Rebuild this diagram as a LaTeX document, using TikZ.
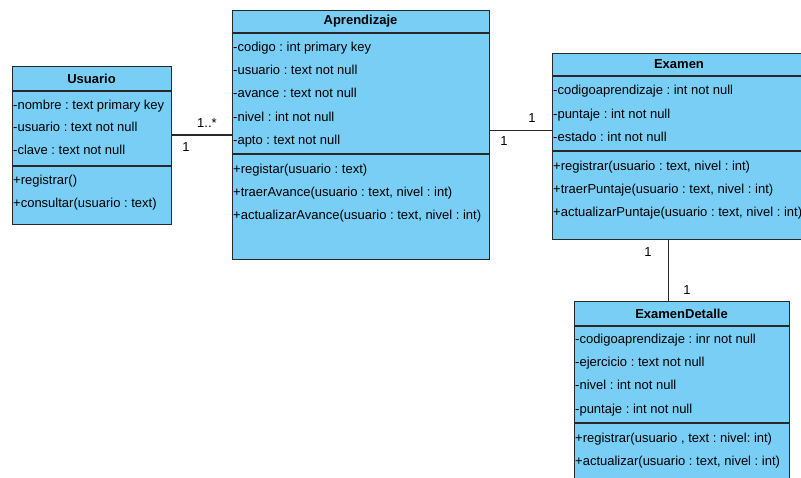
\documentclass[tikz,border=0pt]{standalone}
\usepackage{fontspec}
\setmainfont{Liberation Sans}
\frenchspacing
\definecolor{umlfill}{RGB}{121,206,245}
\definecolor{umlline}{RGB}{40,40,40}
\tikzset{
  cls/.style={draw=umlline, fill=umlfill, line width=1.1pt, rectangle, inner sep=0pt, anchor=north west},
  sepline/.style={draw=umlline, line width=1.1pt},
  attr/.style={anchor=west, inner sep=0pt, font=\fontsize{13}{15}\selectfont\frenchspacing, text height=9.3pt, text depth=2.7pt},
  ttl/.style={inner sep=0pt, font=\fontsize{13}{15}\selectfont\bfseries},
  mult/.style={inner sep=0pt, font=\fontsize{13}{15}\selectfont},
  conn/.style={draw=umlline, line width=1.1pt}
}
\begin{document}
\begin{tikzpicture}[x=1pt,y=-1pt]
\useasboundingbox (0,0) rectangle (801,478);
\clip (0,0) rectangle (801,478);
\fill[white] (0,0) rectangle (801,478);

% Usuario
\node[cls, minimum width=159pt, minimum height=158pt] (usr) at (12,66) {};
\draw[sepline] (12,91) -- (171,91);
\draw[sepline] (12,166) -- (171,166);
\node[ttl] (usrT) at (91.5,79) {Usuario};
\node[attr] (u1) at (13,106) {-nombre : text primary key};
\node[attr] (u2) at (13,128.5) {-usuario : text not null};
\node[attr] (u3) at (13,151) {-clave : text not null};
\node[attr] (u4) at (13,181.5) {+registrar()};
\node[attr] (u5) at (13,204) {+consultar(usuario : text)};

% Aprendizaje
\node[cls, minimum width=257pt, minimum height=249pt] (apr) at (232,10) {};
\draw[sepline] (232,33) -- (489,33);
\draw[sepline] (232,154) -- (489,154);
\node[ttl] (aprT) at (360.5,21.5) {Aprendizaje};
\node[attr] (a1) at (233,48) {-codigo : int primary key};
\node[attr] (a2) at (233,71.5) {-usuario : text not null};
\node[attr] (a3) at (233,94.5) {-avance : text not null};
\node[attr] (a4) at (233,118) {-nivel : int not null};
\node[attr] (a5) at (233,141) {-apto : text not null};
\node[attr] (a6) at (233,170.5) {+registar(usuario : text)};
\node[attr] (a7) at (233,193.5) {+traerAvance(usuario : text, nivel : int)};
\node[attr] (a8) at (233,216) {+actualizarAvance(usuario : text, nivel : int)};

% Examen
\node[cls, minimum width=270pt, minimum height=186pt] (ex) at (552,53) {};
\draw[sepline] (552,76) -- (822,76);
\draw[sepline] (552,151) -- (822,151);
\node[ttl] (exT) at (679,64.5) {Examen};
\node[attr] (e1) at (553,91.7) {-codigoaprendizaje : int not null};
\node[attr] (e2) at (553,115) {-puntaje : int not null};
\node[attr] (e3) at (553,138.3) {-estado : int not null};
\node[attr] (e4) at (553,167.3) {+registrar(usuario : text, nivel : int)};
\node[attr] (e5) at (553,190) {+traerPuntaje(usuario : text, nivel : int)};
\node[attr] (e6) at (553,213.3) {+actualizarPuntaje(usuario : text, nivel : int)};

% ExamenDetalle
\node[cls, minimum width=215pt, minimum height=200pt] (exd) at (574,301) {};
\draw[sepline] (574,326) -- (789,326);
\draw[sepline] (574,423) -- (789,423);
\node[ttl] (exdT) at (681.5,313.5) {ExamenDetalle};
\node[attr] (d1) at (575,340) {-codigoaprendizaje : inr not null};
\node[attr] (d2) at (575,363) {-ejercicio : text not null};
\node[attr] (d3) at (575,386.5) {-nivel : int not null};
\node[attr] (d4) at (575,410) {-puntaje : int not null};
\node[attr] (d5) at (575,439) {+registrar(usuario , text : nivel: int)};
\node[attr] (d6) at (575,462) {+actualizar(usuario : text, nivel : int)};

% connectors
\draw[conn] (apr.west) -- (apr.west -| usr.east);
\coordinate (c1) at ([yshift=4.5pt]apr.east);
\draw[conn] (c1) -- (c1 -| ex.west);
\coordinate (c2) at ([xshift=-13.5pt]exd.north);
\draw[conn] (c2) -- (c2 |- ex.south);

% multiplicities
\node[mult] (m1) at (207,123) {1..*};
\node[mult] (m2) at (186,147.5) {1};
\node[mult] (m3) at (532,118) {1};
\node[mult] (m4) at (504,141.5) {1};
\node[mult] (m5) at (648,252.5) {1};
\node[mult] (m6) at (687,290.5) {1};
\end{tikzpicture}
\end{document}
